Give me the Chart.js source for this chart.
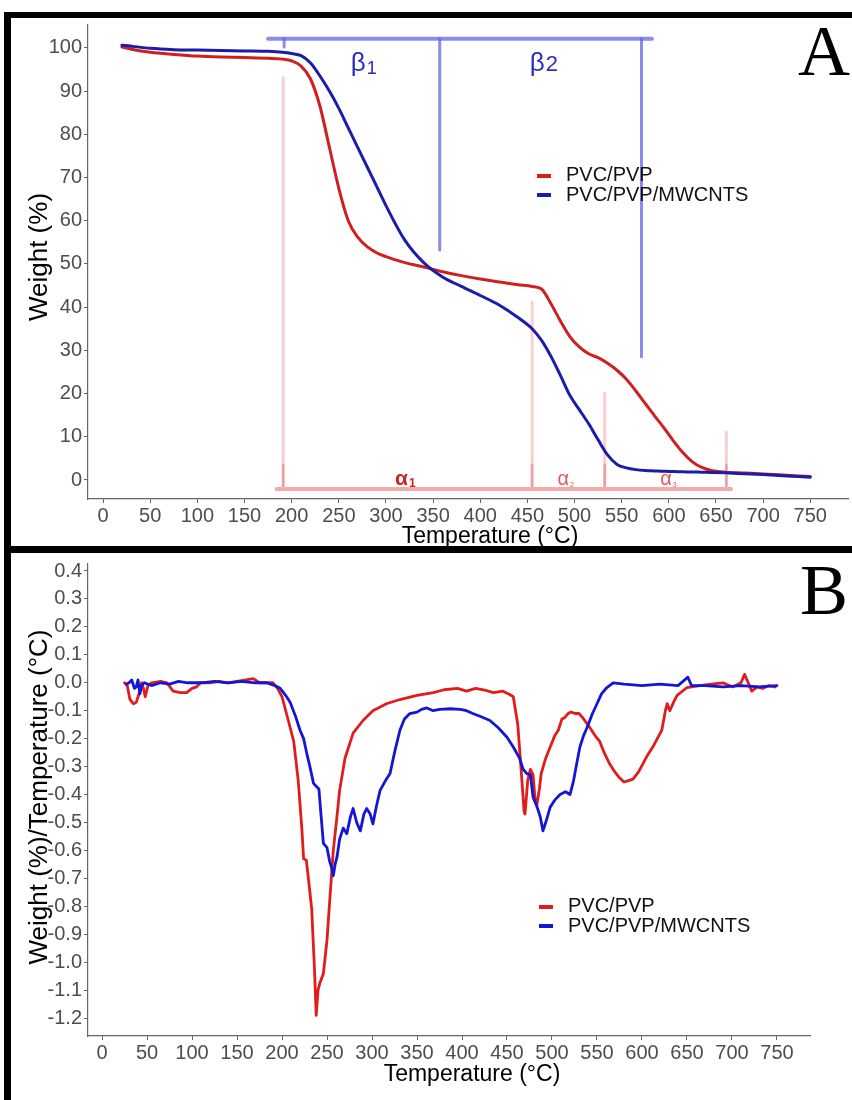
<!DOCTYPE html>
<html>
<head>
<meta charset="utf-8">
<script src="https://cdn.jsdelivr.net/npm/chart.js@4.4.0/dist/chart.umd.min.js"></script>
<style>
  body { margin: 0; background: #fff; width: 852px; height: 1100px; position: relative; overflow: hidden;
         font-family: "Liberation Sans", Arial, sans-serif; }
  .panel { position: absolute; left: 0; width: 852px; height: 550px; }
  .bar { position: absolute; background: #000; }
  .letter { position: absolute; font-family: "Liberation Serif", "Times New Roman", serif; font-size: 72px;
            line-height: 72px; color: #000; }
  .ytitle { position: absolute; width: 440px; height: 30px; line-height: 30px; text-align: center;
            font-size: 26px; color: #000; transform: rotate(-90deg); }
  .xtitle { position: absolute; width: 300px; height: 28px; line-height: 28px; text-align: center;
            font-size: 23px; color: #000; }
  .legend { position: absolute; font-size: 20px; color: #111; }
  .legend div { height: 19.5px; line-height: 19.5px; white-space: nowrap; }
  .legend span { display: inline-block; width: 14px; height: 4px; vertical-align: middle; margin-right: 15px; }
</style>
</head>
<body>
<canvas id="chartA" class="panel" style="top:0" width="852" height="550"></canvas>
<canvas id="chartB" class="panel" style="top:550px" width="852" height="550"></canvas>

<div class="bar" style="left:4px; top:12px; width:848px; height:6px"></div>
<div class="bar" style="left:4px; top:12px; width:7px; height:1088px"></div>
<div class="bar" style="left:4px; top:546px; width:848px; height:7px"></div>

<div class="letter" style="left:798px; top:15px">A</div>
<div class="letter" style="left:800px; top:554px">B</div>

<div class="ytitle" style="left:-182px; top:242px">Weight (%)</div>
<div class="ytitle" style="left:-182px; top:782px">Weight (%)/Temperature (°C)</div>
<div class="xtitle" style="left:340px; top:521px">Temperature (°C)</div>
<div class="xtitle" style="left:322px; top:1059px">Temperature (°C)</div>

<div class="legend" id="legendA" style="left:537px; top:165px"></div>
<div class="legend" id="legendB" style="left:539px; top:896px"></div>

<script>
// Series names and colours
const seriesNames = ['PVC/PVP', 'PVC/PVP/MWCNTS'];
const colorsA = ['#cf1f1f', '#1c1cab'];
const colorsB = ['#e01c1c', '#1515d6'];

// Temperature tick labels shared by both panels
const xTickValues = [0, 50, 100, 150, 200, 250, 300, 350, 400, 450, 500, 550, 600, 650, 700, 750];

// Panel A: TGA (weight % vs temperature)
const tgaTemp = [20, 30, 50, 75, 100, 125, 150, 175, 190, 200, 210, 220, 230, 240, 250, 260, 270, 280, 290, 300,
  320, 340, 360, 380, 400, 420, 440, 455, 465, 475, 485, 495, 505, 515, 525, 535, 545, 555, 565, 575,
  585, 595, 605, 615, 625, 635, 645, 660, 680, 700, 725, 750];
const tgaRed = [100.2, 99.7, 99.0, 98.5, 98.1, 97.9, 97.8, 97.6, 97.4, 97.0, 95.8, 92.8, 86.5, 77.0, 67.5, 60.0, 56.2, 54.0, 52.6, 51.7,
  50.3, 49.3, 48.2, 47.3, 46.5, 45.8, 45.2, 44.8, 44.2, 40.8, 36.8, 33.2, 30.8, 29.2, 28.3, 27.0, 25.4, 23.3, 20.6, 17.7,
  14.8, 12.0, 9.0, 6.3, 4.2, 2.9, 2.2, 1.8, 1.6, 1.4, 1.1, 0.8];
const tgaBlue = [100.6, 100.4, 99.9, 99.6, 99.5, 99.4, 99.3, 99.2, 99.0, 98.7, 98.2, 96.5, 93.5, 90.0, 86.0, 81.5, 77.0, 72.5, 68.0, 63.5,
  55.5, 50.3, 47.0, 44.8, 42.7, 40.5, 37.6, 35.0, 32.3, 28.6, 24.2, 19.6, 16.3, 13.0, 9.3, 5.8, 3.6, 2.8, 2.4, 2.2,
  2.1, 2.0, 1.95, 1.9, 1.85, 1.8, 1.75, 1.65, 1.45, 1.25, 0.95, 0.65];

// Panel A stage markers (temperatures in °C, levels in weight %)
const betaTemps = [192, 357, 571];
const betaBottoms = [100.2, 53.2, 28.5];
const betaBarLevel = 102.1;
const betaBarRange = [175, 582];
const betaLabelTemps = [276, 467];
const betaLabelLevel = 96.8;
const alphaTemps = [191, 455, 532, 661];
const alphaTops = [93.1, 41.2, 20.1, 11.1];
const alphaDarkTop = 3.5;
const alphaBarLevel = -2.1;
const alphaBarRange = [184, 666];
const alphaLabelTemps = [320, 490, 599];
const alphaLabelLevel = 0.5;

// Panel B: DTG (derivative weight vs temperature)
const dtgRedTemp = [25, 28, 31, 35, 38, 41, 44, 46, 48, 51, 55, 65, 72, 79, 87, 94, 100, 105, 109, 120,
  130, 140, 150, 160, 168, 175, 190, 195, 200, 207, 213, 218, 222, 224, 227, 230, 233, 236, 238, 240,
  242, 246, 250, 253, 257, 261, 264, 270, 279, 290, 301, 316, 331, 350, 368, 380, 395, 405, 415, 424,
  435, 445, 452, 457, 462, 466, 469, 470, 473, 476, 479, 481, 483, 486, 488, 493, 498, 503, 507, 511,
  514, 518, 521, 526, 530, 534, 542, 548, 553, 558, 564, 570, 575, 580, 585, 590, 596, 601, 606, 612,
  617, 622, 626, 628, 631, 635, 639, 650, 664, 677, 690, 701, 710, 714, 718, 722, 728, 734, 741, 748];
const dtgRed = [0.0, -0.01, -0.06, -0.075, -0.07, -0.04, 0.0, -0.02, -0.05, -0.01, 0.0, 0.005, 0.0, -0.03, -0.035, -0.035, -0.02, -0.015, 0.0, 0.0,
  0.005, 0.0, 0.005, 0.01, 0.015, 0.0, 0.0, -0.02, -0.05, -0.135, -0.21, -0.35, -0.52, -0.63, -0.635, -0.72, -0.81, -1.02, -1.19, -1.10,
  -1.075, -1.04, -0.92, -0.78, -0.6, -0.48, -0.385, -0.27, -0.18, -0.135, -0.1, -0.075, -0.06, -0.045, -0.035, -0.025, -0.02, -0.03, -0.02, -0.025,
  -0.035, -0.03, -0.04, -0.05, -0.15, -0.325, -0.46, -0.47, -0.35, -0.31, -0.33, -0.41, -0.44, -0.38, -0.325, -0.27, -0.23, -0.19, -0.17, -0.13,
  -0.125, -0.11, -0.105, -0.11, -0.11, -0.125, -0.16, -0.19, -0.21, -0.25, -0.29, -0.32, -0.34, -0.355, -0.35, -0.345, -0.32, -0.29, -0.26, -0.23,
  -0.2, -0.17, -0.1, -0.075, -0.1, -0.07, -0.045, -0.017, -0.01, -0.005, 0.0, -0.015, 0.0, 0.03, 0.0, -0.03, -0.015, -0.02, -0.01, -0.015];
const dtgBlueTemp = [27, 30, 33, 36, 38, 40, 42, 44, 47, 55, 65, 75, 85, 95, 110, 125, 140, 155, 170, 183,
  192, 198, 204, 209, 215, 220, 224, 228, 231, 235, 238, 241, 243, 246, 250, 253, 255, 257, 259, 261,
  264, 268, 272, 276, 279, 283, 287, 291, 294, 298, 301, 305, 309, 315, 320, 325, 331, 336, 342, 350,
  355, 361, 368, 375, 387, 398, 405, 412, 420, 431, 440, 450, 457, 464, 468, 472, 476, 479, 483, 487,
  490, 494, 498, 503, 509, 515, 520, 524, 528, 531, 535, 539, 545, 550, 555, 561, 568, 580, 600, 620,
  640, 651, 655, 670, 690, 710, 730, 750];
const dtgBlue = [-0.005, 0.0, 0.01, -0.02, -0.015, 0.01, -0.04, -0.01, 0.0, -0.01, 0.0, -0.005, 0.005, 0.0, 0.0, 0.005, 0.0, 0.005, 0.0, 0.0,
  -0.01, -0.02, -0.045, -0.07, -0.12, -0.17, -0.2, -0.26, -0.3, -0.36, -0.37, -0.38, -0.46, -0.575, -0.59, -0.64, -0.66, -0.69, -0.65, -0.625,
  -0.56, -0.52, -0.54, -0.48, -0.45, -0.5, -0.53, -0.47, -0.45, -0.47, -0.505, -0.44, -0.385, -0.35, -0.325, -0.25, -0.17, -0.13, -0.11, -0.105,
  -0.095, -0.09, -0.1, -0.095, -0.093, -0.095, -0.1, -0.11, -0.12, -0.135, -0.16, -0.195, -0.23, -0.27, -0.31, -0.325, -0.33, -0.41, -0.44, -0.48,
  -0.53, -0.49, -0.445, -0.42, -0.4, -0.39, -0.4, -0.35, -0.28, -0.23, -0.19, -0.16, -0.11, -0.075, -0.04, -0.017, 0.0, -0.005, -0.01, -0.005,
  -0.01, 0.02, -0.01, -0.01, -0.015, -0.01, -0.015, -0.01];

Chart.defaults.font.family = "'Liberation Sans', Arial, sans-serif";
Chart.defaults.animation = false;

const pts = (xs, ys) => xs.map((x, i) => ({ x: x, y: ys[i] }));

function verticals(temps, tops, bottoms) {
  const out = [];
  temps.forEach((t, i) => {
    const b = Array.isArray(bottoms) ? bottoms[i] : bottoms;
    out.push({ x: t, y: tops[i] }, { x: t, y: b }, { x: t, y: null });
  });
  return out;
}

// Draws β / α labels (with subscripts) at data coordinates
const stageLabels = {
  id: 'stageLabels',
  afterDatasetsDraw(chart, args, opts) {
    const { ctx, scales: { x, y } } = chart;
    (opts.items || []).forEach(it => {
      const px = x.getPixelForValue(it.t);
      const py = y.getPixelForValue(it.v);
      ctx.save();
      ctx.fillStyle = it.color;
      ctx.textBaseline = 'alphabetic';
      ctx.font = it.font;
      const w1 = ctx.measureText(it.text).width;
      ctx.font = it.subFont;
      const w2 = ctx.measureText(it.sub).width;
      const left = px - (w1 + w2) / 2;
      ctx.font = it.font;
      ctx.fillText(it.text, left, py + it.base);
      ctx.font = it.subFont;
      ctx.fillText(it.sub, left + w1 + 1, py + it.base + it.subDy);
      ctx.restore();
    });
  }
};

function axisOptions(xMin, xMax, yMin, yMax, yStep, yFmt, xHeight) {
  const common = {
    type: 'linear',
    grid: { display: true, drawOnChartArea: false, drawTicks: true, tickLength: 4, color: '#666', lineWidth: 1 },
    border: { display: true, color: '#666', width: 1.2 }
  };
  return {
    x: Object.assign({}, common, {
      min: xMin, max: xMax,
      afterBuildTicks: s => { s.ticks = xTickValues.map(v => ({ value: v })); },
      ticks: { autoSkip: false, maxRotation: 0, padding: 1, color: '#4d4d4d', font: { size: 20 },
               callback: v => String(v) },
      afterFit: s => { s.height = xHeight; }
    }),
    y: Object.assign({}, common, {
      min: yMin, max: yMax,
      ticks: { stepSize: yStep, includeBounds: false, padding: 2, color: '#4d4d4d', font: { size: 20 },
               callback: yFmt },
      afterFit: s => { s.width = 88; }
    })
  };
}

const lineStyle = { pointRadius: 0, fill: false, borderCapStyle: 'round', borderJoinStyle: 'round' };

// ---- Panel A ----
const annA = [
  Object.assign({ data: verticals(alphaTemps, alphaTops, alphaBarLevel), borderColor: 'rgb(247,208,208)', borderWidth: 3, order: 9 }, lineStyle),
  Object.assign({ data: verticals(alphaTemps, alphaTemps.map(() => alphaDarkTop), alphaBarLevel), borderColor: 'rgb(238,160,160)', borderWidth: 2.5, order: 8 }, lineStyle),
  Object.assign({ data: pts(alphaBarRange, [alphaBarLevel, alphaBarLevel]), borderColor: 'rgb(242,172,172)', borderWidth: 4, order: 7 }, lineStyle),
  Object.assign({ data: verticals(betaTemps, betaTemps.map(() => betaBarLevel), betaBottoms), borderColor: 'rgba(100,100,228,0.75)', borderWidth: 3, order: 9 }, lineStyle),
  Object.assign({ data: pts(betaBarRange, [betaBarLevel, betaBarLevel]), borderColor: 'rgba(100,100,228,0.75)', borderWidth: 4, order: 7 }, lineStyle)
];

new Chart(document.getElementById('chartA'), {
  type: 'line',
  data: {
    datasets: [
      Object.assign({ label: seriesNames[1], data: pts(tgaTemp, tgaBlue), borderColor: colorsA[1], borderWidth: 3,
                      cubicInterpolationMode: 'monotone', order: 0 }, lineStyle),
      Object.assign({ label: seriesNames[0], data: pts(tgaTemp, tgaRed), borderColor: colorsA[0], borderWidth: 3,
                      cubicInterpolationMode: 'monotone', order: 1 }, lineStyle)
    ].concat(annA)
  },
  options: {
    responsive: false,
    layout: { padding: { top: 25, right: 4, left: 0, bottom: 0 } },
    plugins: {
      legend: { display: false }, tooltip: { enabled: false },
      stageLabels: {
        items: [
          { t: betaLabelTemps[0], v: betaLabelLevel, text: 'β', sub: '1', color: '#2c2cbf', font: '26px "Liberation Sans"', subFont: '18px "Liberation Sans"', base: 9, subDy: 3 },
          { t: betaLabelTemps[1], v: betaLabelLevel, text: 'β', sub: '2', color: '#2c2cbf', font: '26px "Liberation Sans"', subFont: '22px "Liberation Sans"', base: 9, subDy: 0 },
          { t: alphaLabelTemps[0], v: alphaLabelLevel, text: 'α', sub: '1', color: '#d02222', font: 'bold 21px "Liberation Sans"', subFont: 'bold 12px "Liberation Sans"', base: 7, subDy: 2 },
          { t: alphaLabelTemps[1], v: alphaLabelLevel, text: 'α', sub: '2', color: '#e05a5a', font: '20px "Liberation Sans"', subFont: '7px "Liberation Sans"', base: 7, subDy: 2 },
          { t: alphaLabelTemps[2], v: alphaLabelLevel, text: 'α', sub: '3', color: '#e05a5a', font: '20px "Liberation Sans"', subFont: '7px "Liberation Sans"', base: 7, subDy: 2 }
        ]
      }
    },
    scales: axisOptions(-16, 790, -4.4, 105.3, 10, v => String(v), 51)
  },
  plugins: [stageLabels]
});

// ---- Panel B ----
new Chart(document.getElementById('chartB'), {
  type: 'line',
  data: {
    datasets: [
      Object.assign({ label: seriesNames[1], data: pts(dtgBlueTemp, dtgBlue), borderColor: colorsB[1], borderWidth: 2.8, tension: 0, order: 0 }, lineStyle),
      Object.assign({ label: seriesNames[0], data: pts(dtgRedTemp, dtgRed), borderColor: colorsB[0], borderWidth: 2.8, tension: 0, order: 1 }, lineStyle)
    ]
  },
  options: {
    responsive: false,
    layout: { padding: { top: 13, right: 42, left: 0, bottom: 0 } },
    plugins: { legend: { display: false }, tooltip: { enabled: false } },
    scales: axisOptions(-15.6, 786.7, -1.264, 0.425, 0.1,
      v => (Math.abs(v) < 1e-9 ? 0 : v).toFixed(1), 64)
  }
});

// HTML legends built from the series names
function buildLegend(id, colors) {
  document.getElementById(id).innerHTML = seriesNames.map((n, i) =>
    `<div><span style="background:${colors[i]}"></span>${n}</div>`).join('');
}
buildLegend('legendA', colorsA);
buildLegend('legendB', colorsB);
</script>
</body>
</html>
